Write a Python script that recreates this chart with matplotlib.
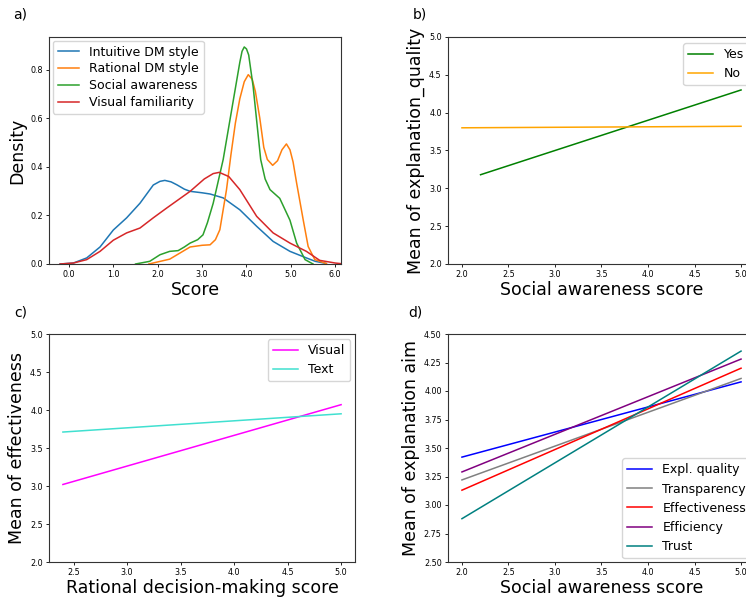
import matplotlib
matplotlib.use("Agg")
import matplotlib.pyplot as plt
from matplotlib.ticker import FormatStrFormatter, MultipleLocator

# a) density curves
intuitive_x = [-0.2, 0.1, 0.4, 0.7, 1.0, 1.3, 1.6, 1.9, 2.05, 2.16, 2.3, 2.43, 2.6, 2.73, 3.0, 3.18, 3.475, 3.85, 4.23, 4.6, 4.98, 5.35, 5.55, 5.8]
intuitive_y = [0.0, 0.004, 0.025, 0.07, 0.14, 0.19, 0.25, 0.325, 0.34, 0.344, 0.338, 0.326, 0.308, 0.299, 0.293, 0.288, 0.272, 0.223, 0.155, 0.093, 0.052, 0.025, 0.011, 0.002]

rational_x = [1.8, 2.27, 2.73, 3.0, 3.18, 3.3, 3.4, 3.55, 3.65, 3.75, 3.85, 3.95, 4.04, 4.13, 4.2, 4.3, 4.39, 4.47, 4.59, 4.7, 4.8, 4.9, 4.98, 5.05, 5.13, 5.28, 5.39, 5.54, 5.8]
rational_y = [0.0, 0.02, 0.07, 0.077, 0.079, 0.1, 0.141, 0.306, 0.45, 0.58, 0.68, 0.75, 0.779, 0.76, 0.71, 0.6, 0.48, 0.43, 0.406, 0.425, 0.47, 0.494, 0.47, 0.42, 0.333, 0.18, 0.072, 0.018, 0.002]

social_x = [1.5, 1.82, 2.05, 2.27, 2.46, 2.6, 2.73, 2.9, 3.02, 3.12, 3.25, 3.475, 3.7, 3.85, 3.9, 3.95, 4.0, 4.05, 4.15, 4.32, 4.42, 4.53, 4.75, 4.98, 5.13, 5.32, 5.5]
social_y = [0.0, 0.011, 0.038, 0.052, 0.055, 0.07, 0.086, 0.1, 0.12, 0.17, 0.25, 0.43, 0.67, 0.83, 0.875, 0.893, 0.885, 0.86, 0.73, 0.43, 0.35, 0.306, 0.27, 0.18, 0.086, 0.018, 0.0]

visual_x = [-0.2, 0.1, 0.4, 0.7, 1.0, 1.3, 1.6, 1.9, 2.2, 2.73, 3.05, 3.25, 3.385, 3.6, 3.85, 4.23, 4.6, 4.98, 5.35, 5.65, 6.0, 6.2]
visual_y = [0.0, 0.004, 0.018, 0.052, 0.098, 0.128, 0.148, 0.19, 0.23, 0.299, 0.35, 0.372, 0.377, 0.36, 0.306, 0.196, 0.128, 0.086, 0.052, 0.015, 0.004, 0.0]

# b) explanation quality vs social awareness
b_x = {"Yes": [2.2, 5.0], "No": [2.0, 5.0]}
b_y = {"Yes": [3.18, 4.30], "No": [3.80, 3.82]}

# c) effectiveness vs rational decision-making
c_x = {"Visual": [2.4, 5.0], "Text": [2.4, 5.0]}
c_y = {"Visual": [3.02, 4.07], "Text": [3.71, 3.95]}

# d) explanation aims vs social awareness
d_x = [2.0, 5.0]
d_names = ["Expl. quality", "Transparency", "Effectiveness", "Efficiency", "Trust"]
d_y = [[3.42, 4.08], [3.22, 4.11], [3.13, 4.20], [3.29, 4.28], [2.88, 4.35]]

W, H = 746, 598
fig = plt.figure(figsize=(W / 100, H / 100), dpi=100)


def box(l, t, r, b):
    return [l / W, 1 - b / H, (r - l) / W, (b - t) / H]


def style(ax):
    ax.tick_params(labelsize=5.8, length=2.5, width=0.6, pad=2)
    for s in ax.spines.values():
        s.set_linewidth(0.8)
        s.set_color("#333333")


LBL = 12.5
LEG = 9

ax = fig.add_axes(box(49, 37, 341, 264))
ax.plot(intuitive_x, intuitive_y, color="#1f77b4", lw=1.1, label="Intuitive DM style")
ax.plot(rational_x, rational_y, color="#ff7f0e", lw=1.1, label="Rational DM style")
ax.plot(social_x, social_y, color="#2ca02c", lw=1.1, label="Social awareness")
ax.plot(visual_x, visual_y, color="#d62728", lw=1.1, label="Visual familiarity")
ax.set_xlim(-0.45, 6.13)
ax.set_ylim(0, 0.934)
ax.xaxis.set_major_locator(MultipleLocator(1.0))
ax.xaxis.set_major_formatter(FormatStrFormatter("%.1f"))
ax.yaxis.set_major_locator(MultipleLocator(0.2))
ax.yaxis.set_major_formatter(FormatStrFormatter("%.1f"))
ax.set_xlabel("Score", fontsize=LBL, labelpad=1)
ax.set_ylabel("Density", fontsize=LBL, labelpad=3)
ax.legend(loc="upper left", borderaxespad=0.3, fontsize=LEG, handlelength=1.7, labelspacing=0.3)
style(ax)

ax = fig.add_axes(box(448, 37, 755, 264))
ax.plot(b_x["Yes"], b_y["Yes"], color="green", lw=1.1, label="Yes")
ax.plot(b_x["No"], b_y["No"], color="orange", lw=1.1, label="No")
ax.set_xlim(1.85, 5.15)
ax.set_ylim(2, 5)
ax.xaxis.set_major_locator(MultipleLocator(0.5))
ax.yaxis.set_major_locator(MultipleLocator(0.5))
ax.xaxis.set_major_formatter(FormatStrFormatter("%.1f"))
ax.yaxis.set_major_formatter(FormatStrFormatter("%.1f"))
ax.set_xlabel("Social awareness score", fontsize=LBL, labelpad=1)
ax.set_ylabel("Mean of explanation_quality", fontsize=LBL, labelpad=3)
ax.legend(loc="upper right", borderaxespad=0.5, fontsize=LEG, handlelength=2.0)
style(ax)

ax = fig.add_axes(box(49, 334, 355, 562))
ax.plot(c_x["Visual"], c_y["Visual"], color="magenta", lw=1.1, label="Visual")
ax.plot(c_x["Text"], c_y["Text"], color="turquoise", lw=1.1, label="Text")
ax.set_xlim(2.27, 5.13)
ax.set_ylim(2, 5)
ax.xaxis.set_major_locator(MultipleLocator(0.5))
ax.yaxis.set_major_locator(MultipleLocator(0.5))
ax.xaxis.set_major_formatter(FormatStrFormatter("%.1f"))
ax.yaxis.set_major_formatter(FormatStrFormatter("%.1f"))
ax.set_xlabel("Rational decision-making score", fontsize=LBL, labelpad=1)
ax.set_ylabel("Mean of effectiveness", fontsize=LBL, labelpad=3)
ax.legend(loc="upper right", borderaxespad=0.4, fontsize=LEG, handlelength=2.0)
style(ax)

ax = fig.add_axes(box(448, 334, 755, 562))
for name, ys, col in zip(d_names, d_y, ["blue", "gray", "red", "purple", "teal"]):
    ax.plot(d_x, ys, color=col, lw=1.1, label=name)
ax.set_xlim(1.85, 5.15)
ax.set_ylim(2.5, 4.5)
ax.xaxis.set_major_locator(MultipleLocator(0.5))
ax.yaxis.set_major_locator(MultipleLocator(0.25))
ax.xaxis.set_major_formatter(FormatStrFormatter("%.1f"))
ax.yaxis.set_major_formatter(FormatStrFormatter("%.2f"))
ax.set_xlabel("Social awareness score", fontsize=LBL, labelpad=1)
ax.set_ylabel("Mean of explanation aim", fontsize=LBL, labelpad=3)
ax.legend(loc="lower right", borderaxespad=0.3, fontsize=LEG, handlelength=2.0)
style(ax)

for txt, x, y in [("a)", 13, 15), ("b)", 413, 15), ("c)", 14, 313), ("d)", 408, 313)]:
    fig.text(x / W, 1 - y / H, txt, fontsize=10, va="center", ha="left")

fig.savefig("out.png", dpi=100)
